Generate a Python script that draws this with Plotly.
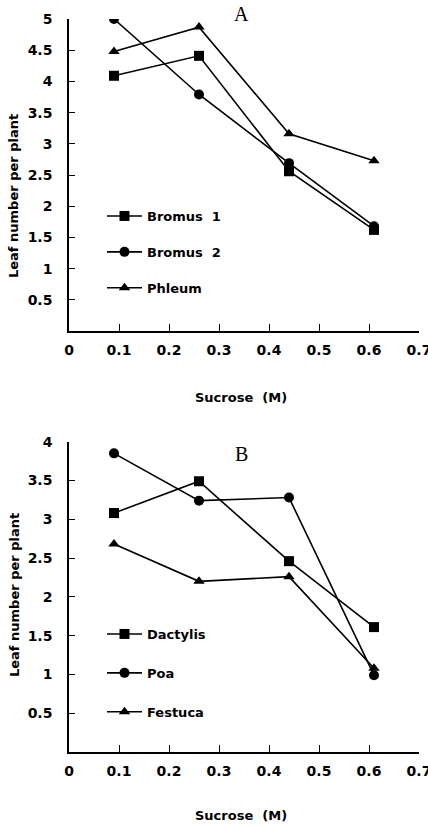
import plotly.graph_objects as go

sucrose = [0.09, 0.26, 0.44, 0.61]
bromus1 = [4.09, 4.41, 2.56, 1.62]
bromus2 = [5.0, 3.79, 2.69, 1.68]
phleum = [4.48, 4.87, 3.16, 2.73]
dactylis = [3.08, 3.49, 2.46, 1.61]
poa = [3.85, 3.24, 3.28, 0.99]
festuca = [2.68, 2.20, 2.26, 1.08]

x_ticks = [0, 0.1, 0.2, 0.3, 0.4, 0.5, 0.6, 0.7]
x_ticklabels = ["0", "0.1", "0.2", "0.3", "0.4", "0.5", "0.6", "0.7"]
yA_ticks = [0.5, 1, 1.5, 2, 2.5, 3, 3.5, 4, 4.5, 5]
yA_ticklabels = ["0.5", "1", "1.5", "2", "2.5", "3", "3.5", "4", "4.5", "5"]
yB_ticks = [0.5, 1, 1.5, 2, 2.5, 3, 3.5, 4]
yB_ticklabels = ["0.5", "1", "1.5", "2", "2.5", "3", "3.5", "4"]

W, H = 428, 830


def px(x):
    return x / W


def py(y):
    return 1 - y / H


SANS = "DejaVu Sans"
TICKFONT = dict(family=SANS, size=14, color="black", weight="bold")
FONT = dict(family=SANS, size=13, color="black", weight="bold")

fig = go.Figure()


def add(name, ys, symbol, xa, ya, legend, grp):
    fig.add_trace(go.Scatter(
        x=sucrose, y=ys, name=name, mode="lines+markers",
        line=dict(color="black", width=1.6),
        marker=dict(symbol=symbol, size=10, color="black"),
        xaxis=xa, yaxis=ya, legend=legend, legendgroup=grp,
    ))


add("Bromus  1", bromus1, "square", "x", "y", "legend", "a1")
add("Bromus  2", bromus2, "circle", "x", "y", "legend", "a2")
add("Phleum", phleum, "triangle-up", "x", "y", "legend", "a3")
add("Dactylis", dactylis, "square", "x2", "y2", "legend2", "b1")
add("Poa", poa, "circle", "x2", "y2", "legend2", "b2")
add("Festuca", festuca, "triangle-up", "x2", "y2", "legend2", "b3")

xdom = [px(69), px(419)]
axcommon = dict(showgrid=False, zeroline=False, showline=True, linecolor="black",
                linewidth=1.5, ticks="inside", tickcolor="black", tickwidth=1.3,
                tickfont=TICKFONT, automargin=False, ticklabeloverflow="allow")

fig.update_layout(
    width=W, height=H,
    margin=dict(l=0, r=0, t=0, b=0),
    plot_bgcolor="white", paper_bgcolor="white",
    showlegend=True,
    xaxis=dict(domain=xdom, range=[0, 0.7], anchor="y", tickvals=x_ticks,
               ticktext=x_ticklabels, ticklen=7, ticklabelstandoff=5, **axcommon),
    yaxis=dict(domain=[py(331), py(19)], range=[0, 5], anchor="x",
               tickvals=yA_ticks, ticktext=yA_ticklabels, ticklen=6,
               ticklabelstandoff=12, **axcommon),
    xaxis2=dict(domain=xdom, range=[0, 0.7], anchor="y2", tickvals=x_ticks,
                ticktext=x_ticklabels, ticklen=7, ticklabelstandoff=5, **axcommon),
    yaxis2=dict(domain=[py(752), py(441.7)], range=[0, 4], anchor="x2",
                tickvals=yB_ticks, ticktext=yB_ticklabels, ticklen=6,
                ticklabelstandoff=12, **axcommon),
    legend=dict(x=px(102), y=py(201), xanchor="left", yanchor="top",
                font=FONT, bgcolor="rgba(0,0,0,0)", tracegroupgap=16,
                itemwidth=35),
    legend2=dict(x=px(102), y=py(619), xanchor="left", yanchor="top",
                 font=FONT, bgcolor="rgba(0,0,0,0)", tracegroupgap=19,
                 itemwidth=35),
)

ann = []
SERIF = dict(family="Liberation Serif", size=20, color="black")
ann.append(dict(text="A", x=px(241), y=py(14), xref="paper", yref="paper",
                xanchor="center", yanchor="middle", showarrow=False, font=SERIF))
ann.append(dict(text="B", x=px(241), y=py(454), xref="paper", yref="paper",
                xanchor="center", yanchor="middle", showarrow=False, font=SERIF))
for yc in [196, 595]:
    ann.append(dict(text="Leaf number per plant", x=px(14), y=py(yc),
                    xref="paper", yref="paper", xanchor="center", yanchor="middle",
                    showarrow=False, textangle=-90, font=FONT))
for yc in [397, 815]:
    ann.append(dict(text="Sucrose  (M)", x=px(241), y=py(yc),
                    xref="paper", yref="paper", xanchor="center", yanchor="middle",
                    showarrow=False, font=FONT))
fig.update_layout(annotations=ann)

fig.write_html("out.html",
               config={"displayModeBar": False},
               post_script="document.body.style.margin='0';document.body.style.padding='0';")
